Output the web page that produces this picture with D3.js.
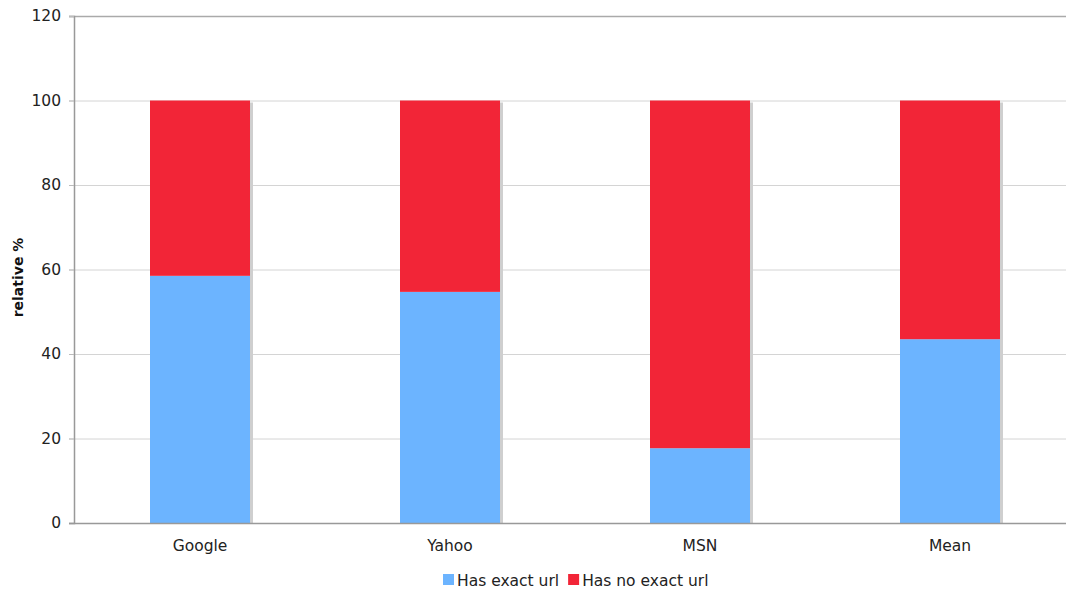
<!DOCTYPE html>
<html><head><meta charset="utf-8">
<script src="https://cdn.jsdelivr.net/npm/d3@7"></script>
<style>body{margin:0;background:#fff;} text{font-family:"DejaVu Sans",Verdana,sans-serif;}</style>
</head><body>
<svg id="c" width="1069" height="596"></svg>
<script>
const categories = ["Google","Yahoo","MSN","Mean"];
const hasExact = [58.5, 54.7, 17.7, 43.5];
const noExact = [41.5, 45.3, 82.3, 56.5];
const seriesNames = ["Has exact url","Has no exact url"];
const colors = ["#6cb4ff","#f22537"];
const yTicks = [0,20,40,60,80,100,120];

const svg = d3.select("#c");
const mL = 74, mR = 1066, mT = 16, mB = 523;
const x = d3.scaleBand().domain(categories).range([75,1075]).paddingInner(0.6).paddingOuter(0.3);
const y = d3.scaleLinear().domain([0,120]).range([mB, mT]);

// gridlines
svg.append("g").selectAll("line").data(yTicks.filter(d=>d>0)).join("line")
  .attr("x1", mL-5).attr("x2", mR)
  .attr("y1", d=>y(d)+0.5).attr("y2", d=>y(d)+0.5)
  .attr("stroke", d=> d===120 ? "#aaa" : "#d4d4d4").attr("stroke-width", d=> d===120?1.5:1);

const stack = categories.map((c,i)=>({c, a:hasExact[i], b:noExact[i]}));
// shadows
svg.append("g").selectAll("rect").data(stack).join("rect")
  .attr("x", d=>x(d.c)+x.bandwidth()).attr("width", 3)
  .attr("y", d=>y(d.a+d.b)+2).attr("height", d=>mB - y(d.a+d.b)-2)
  .attr("fill", "#cfcfcf");
svg.append("g").selectAll("rect").data(stack).join("rect")
  .attr("x", d=>x(d.c)).attr("width", x.bandwidth())
  .attr("y", d=>y(d.a)).attr("height", d=>mB - y(d.a))
  .attr("fill", colors[0]);
svg.append("g").selectAll("rect").data(stack).join("rect")
  .attr("x", d=>x(d.c)).attr("width", x.bandwidth())
  .attr("y", d=>y(d.a+d.b)).attr("height", d=>y(d.a)-y(d.a+d.b))
  .attr("fill", colors[1]);

// y axis
const ya = svg.append("g").attr("transform", `translate(${mL},0)`)
  .call(d3.axisLeft(y).tickValues(yTicks).tickSize(5).tickPadding(8));
ya.select(".domain").attr("stroke","#999").attr("stroke-width",1.5);
ya.selectAll(".tick line").attr("stroke","#bbb");
ya.selectAll("text").attr("font-size",15.5).attr("fill","#222").style("font-family","'DejaVu Sans',Verdana,sans-serif");

// x axis
const xa = svg.append("g").attr("transform", `translate(0,${mB})`)
  .call(d3.axisBottom(x).tickSize(0).tickPadding(17));
xa.select(".domain").remove();
svg.append("line").attr("x1",mL-5).attr("x2",mR).attr("y1",mB+0.5).attr("y2",mB+0.5).attr("stroke","#999").attr("stroke-width",1.5);
xa.selectAll("text").attr("font-size",15.5).attr("fill","#222").style("font-family","'DejaVu Sans',Verdana,sans-serif");

// y label
svg.append("text").attr("transform",`translate(23,${(mT+mB)/2+8}) rotate(-90)`)
  .attr("text-anchor","middle").attr("font-size",14).attr("font-weight","bold").attr("fill","#111")
  .text("relative %");

// legend
const lg = svg.append("g").attr("transform","translate(443,574)");
let lx = 0;
seriesNames.forEach((n,i)=>{
  lg.append("rect").attr("x",lx).attr("y",0).attr("width",11).attr("height",11).attr("fill",colors[i]);
  const t = lg.append("text").attr("x",lx+14).attr("y",11.5).attr("font-size",15.5).attr("fill","#222").text(n);
  lx += 14 + t.node().getComputedTextLength() + 9;
});
</script>
</body></html>
